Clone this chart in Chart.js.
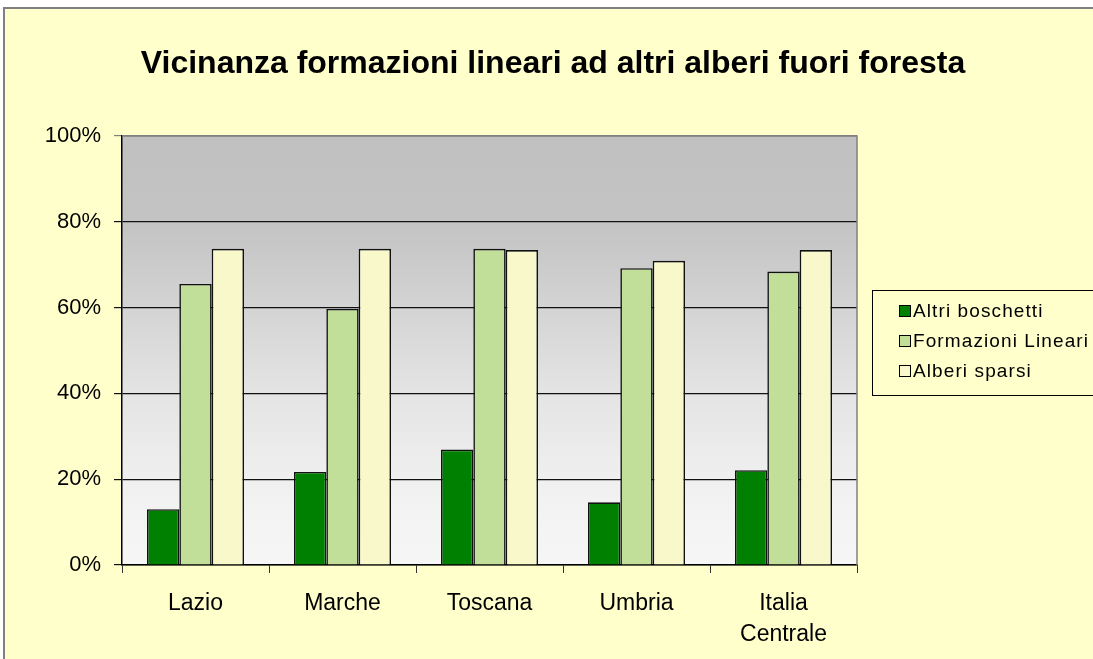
<!DOCTYPE html>
<html lang="it">
<head>
  <meta charset="UTF-8">
  <title>Vicinanza formazioni lineari ad altri alberi fuori foresta</title>
  <script src="https://cdn.jsdelivr.net/npm/chart.js"></script>
  <style>
    html, body { margin: 0; padding: 0; background: #fff; overflow: hidden; }
    canvas { display: block; }
  </style>
</head>
<body>
  <canvas id="chart" width="1093" height="659"></canvas>
  <script>
    // data (percent)
    const title = 'Vicinanza formazioni lineari ad altri alberi fuori foresta';
    const regions = ['Lazio', 'Marche', 'Toscana', 'Umbria', ['Italia', 'Centrale']];
    const altriBoschetti = [13.0, 21.7, 26.9, 14.6, 22.1];
    const formazioniLineari = [65.5, 59.7, 73.7, 69.2, 68.4];
    const alberiSparsi = [73.7, 73.7, 73.4, 70.9, 73.4];
    const yTicks = [0, 20, 40, 60, 80, 100];

    const FONT = "'Liberation Sans', Arial, sans-serif";

    // background, outer frame, plot gradient and title
    const frame = {
      id: 'frame',
      beforeDraw(chart) {
        const ctx = chart.ctx, a = chart.chartArea;
        ctx.save();
        ctx.fillStyle = '#ffffff';
        ctx.fillRect(0, 0, chart.width, chart.height);
        ctx.fillStyle = '#ffffcc';
        ctx.fillRect(4, 8, chart.width, chart.height);
        ctx.strokeStyle = '#808080';
        ctx.lineWidth = 2;
        ctx.beginPath();
        ctx.moveTo(4, chart.height + 2);
        ctx.lineTo(4, 8);
        ctx.lineTo(chart.width + 2, 8);
        ctx.stroke();

        const g = ctx.createLinearGradient(0, a.top, 0, a.bottom);
        g.addColorStop(0, '#c0c0c0');
        g.addColorStop(0.2, '#c3c3c3');
        g.addColorStop(0.6, '#e4e4e4');
        g.addColorStop(0.85, '#f2f2f2');
        g.addColorStop(1, '#f6f6f6');
        ctx.fillStyle = g;
        ctx.fillRect(a.left, a.top, a.right - a.left, a.bottom - a.top);

        ctx.fillStyle = '#000';
        ctx.font = 'bold 32px ' + FONT;
        ctx.textAlign = 'center';
        ctx.textBaseline = 'middle';
        ctx.fillText(title, 553, 64);
        ctx.restore();
      },
      afterDatasetsDraw(chart) {
        const ctx = chart.ctx, a = chart.chartArea;
        ctx.save();
        ctx.strokeStyle = '#808080';
        ctx.lineWidth = 1.5;
        ctx.beginPath();
        ctx.moveTo(a.left, a.top);
        ctx.lineTo(a.right, a.top);
        ctx.lineTo(a.right, a.bottom);
        ctx.stroke();
        ctx.restore();
      }
    };

    // boxed legend on the right
    const boxLegend = {
      id: 'boxLegend',
      afterDraw(chart) {
        const ctx = chart.ctx;
        const x = 872, y = 290, w = 240, h = 105;
        ctx.save();
        ctx.strokeStyle = '#000';
        ctx.lineWidth = 1;
        ctx.strokeRect(x + 0.5, y + 0.5, w, h);
        ctx.font = '19px ' + FONT;
        ctx.textBaseline = 'middle';
        ctx.textAlign = 'left';
        if ('letterSpacing' in ctx) ctx.letterSpacing = '1.1px';
        chart.data.datasets.forEach((ds, i) => {
          const cy = y + 21 + i * 30;
          ctx.fillStyle = ds.backgroundColor;
          ctx.fillRect(899, cy - 6, 12, 12);
          ctx.strokeStyle = '#000';
          ctx.strokeRect(899.5, cy - 5.5, 11, 11);
          ctx.fillStyle = '#000';
          ctx.fillText(ds.label, 913, cy + 1);
        });
        ctx.restore();
      }
    };

    const ctx = document.getElementById('chart').getContext('2d');
    new Chart(ctx, {
      type: 'bar',
      data: {
        labels: regions,
        datasets: [
          { label: 'Altri boschetti', data: altriBoschetti, backgroundColor: '#008000' },
          { label: 'Formazioni Lineari', data: formazioniLineari, backgroundColor: '#c2df9a' },
          { label: 'Alberi sparsi', data: alberiSparsi, backgroundColor: '#f8f8cb' }
        ]
      },
      options: {
        responsive: false,
        animation: false,
        layout: { padding: { top: 136, right: 236, left: 0, bottom: 0 } },
        datasets: {
          bar: {
            categoryPercentage: 0.66,
            barPercentage: 1.0,
            borderColor: '#111',
            borderWidth: 1.6
          }
        },
        plugins: {
          legend: { display: false },
          title: { display: false },
          tooltip: { enabled: false }
        },
        scales: {
          x: {
            afterFit: s => { s.height = 94; },
            grid: {
              offset: true,
              drawOnChartArea: false,
              drawTicks: true,
              tickLength: 8,
              color: '#333'
            },
            border: { display: true, color: '#000', width: 1.5 },
            ticks: {
              color: '#000',
              padding: 15,
              maxRotation: 0,
              font: { family: FONT, size: 23, lineHeight: 1.35 }
            }
          },
          y: {
            min: 0,
            max: 100,
            afterFit: s => { s.width = 122; },
            afterBuildTicks: s => { s.ticks = yTicks.map(v => ({ value: v })); },
            grid: {
              color: c => (c.tick && c.tick.value === 100 ? '#808080' : '#111'),
              tickLength: 8,
              lineWidth: 1.2
            },
            border: { display: true, color: '#000', width: 1.5 },
            ticks: {
              color: '#000',
              padding: 13,
              font: { family: FONT, size: 22 },
              callback: v => v + '%'
            }
          }
        }
      },
      plugins: [frame, boxLegend]
    });
  </script>
</body>
</html>
